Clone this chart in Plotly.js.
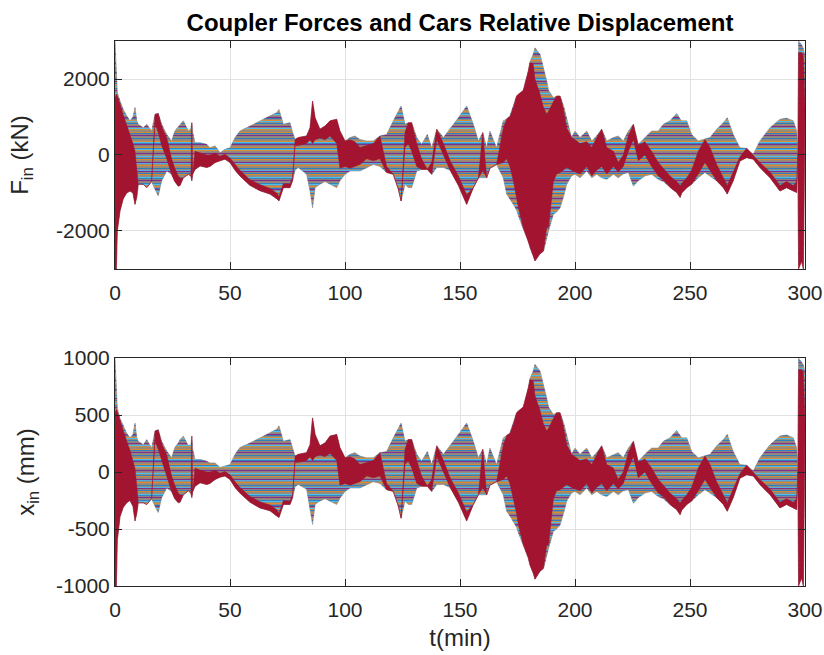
<!DOCTYPE html>
<html>
<head>
<meta charset="utf-8">
<script src="https://cdn.plot.ly/plotly-3.0.1.min.js"></script>
<style>html,body{margin:0;padding:0;background:#fff;}#chart{width:824px;height:655px;}</style>
</head>
<body>
<div id="chart"></div>
<script>
// time axis (min)
var t = [0,0.6,1.0,2.2,3.6,5.1,6.5,7.8,8.7,9.5,10.1,12.3,13.8,15.9,17.4,18.8,20.3,22.5,24.6,26.0,27.5,28.3,29.7,31.9,33.0,33.4,33.8,34.8,37.0,39.9,41.3,43.5,45.7,47.8,50.0,52.2,54.3,58.7,63.0,67.4,70.3,71.3,73.2,76.1,77.2,78.3,79.7,83.3,84.8,85.9,87.0,89.1,91.3,93.5,96.4,97.8,100.0,102.2,104.3,106.5,109.4,112.3,115.2,118.1,121.0,123.2,124.4,126.1,127.5,129.0,131.2,133.3,135.8,137.7,139.9,142.8,145.7,149.3,152.9,155.8,158.0,159.9,161.6,163.0,165.9,168.8,170.3,171.7,173.2,174.6,175.4,177.5,179.7,180.4,181.8,182.6,184.8,186.3,187.7,188.5,190.6,192.0,193.5,195.0,196.4,198.5,200.0,202.2,205.1,207.3,209.4,211.6,213.8,216.7,218.8,221.0,223.2,225.4,227.5,230.4,233.3,236.2,238.4,241.3,244.2,245.7,246.4,248.6,250.7,253.6,256.5,258.7,261.6,264.5,266.2,268.8,271.7,274.6,277.5,280.4,284.8,289.1,292.0,294.9,296.4,296.9,297.2,298.5,299.3,300.0];

// Coupler forces (kN): envelope of all cars
var F_upper = [3000,2000,1650,1420,1200,1030,900,1000,1250,900,810,720,810,630,1070,1090,810,540,370,630,750,810,900,630,700,850,600,320,320,280,190,240,60,150,190,460,630,760,900,1030,1110,1200,810,850,600,410,460,500,720,1420,980,680,760,900,940,630,370,460,500,410,370,370,500,540,900,1160,1290,810,850,850,460,280,540,190,680,460,680,980,1290,810,370,590,190,630,190,900,950,1030,1300,1550,1600,1700,2210,2450,2650,2820,2650,2300,1950,1700,1510,1550,1550,1300,980,460,630,460,630,370,500,680,370,460,500,370,630,810,280,460,630,630,810,900,1090,950,900,900,540,370,410,460,680,850,980,540,190,175,20,370,720,940,970,900,630,0,3000,2900,2800,2600];
var F_lower = [-3000,-3000,-2000,-1470,-1150,-1000,-950,-1000,-1300,-1100,-770,-770,-860,-700,-900,-1080,-680,-420,-510,-700,-820,-800,-600,-510,-550,-680,-500,-380,-290,-330,-300,-200,-150,-110,-200,-400,-550,-800,-940,-1030,-1150,-1210,-860,-860,-680,-400,-330,-510,-950,-1390,-860,-770,-700,-770,-860,-680,-510,-420,-420,-420,-330,-250,-300,-460,-510,-900,-1210,-770,-860,-860,-420,-380,-380,-510,-330,-330,-400,-800,-1300,-860,-600,-600,-600,-350,-250,-600,-1030,-1150,-1300,-1450,-1600,-1950,-2260,-2440,-2650,-2790,-2600,-2530,-2200,-2000,-1560,-1500,-1390,-1100,-770,-550,-510,-600,-420,-600,-510,-600,-640,-510,-600,-500,-460,-820,-680,-550,-510,-640,-700,-850,-990,-1120,-1000,-860,-770,-600,-460,-560,-680,-860,-1030,-680,-160,-70,-110,-330,-600,-950,-860,-950,-990,0,-3000,-2800,-3000,1200];
// Coupler forces (kN): last car (drawn on top)
var F_last_upper = [1500,1600,1550,1350,1050,800,550,300,100,-400,-770,-770,-860,-700,1070,1090,750,450,-100,-350,-550,-600,-600,-510,-550,850,-500,100,50,0,0,50,-30,20,-80,-250,-400,-650,-780,-880,-1000,-1100,-750,-760,-600,410,460,500,720,1420,980,680,760,900,940,630,370,400,350,200,250,300,500,-300,-510,-900,-1210,600,850,850,300,-100,-380,-200,680,300,-150,-550,-1050,-860,-600,590,-600,-350,-250,700,950,1000,1250,1550,1600,1700,2210,2430,2400,2000,1600,1250,1070,1150,1400,1550,1550,1200,720,460,400,300,350,200,450,680,200,100,-200,0,500,810,250,350,100,-200,-350,-550,-700,-800,-750,-600,-400,100,410,200,-250,-600,-800,-450,-50,175,-20,-200,-450,-800,-700,-800,-700,0,2700,2700,2600,1200];
var F_last_lower = [-3000,-3000,-2000,-1470,-1150,-1000,-950,-1000,-1300,-1100,-770,-770,-860,-700,800,600,250,-100,-510,-700,-820,-800,-600,-510,-550,-680,-500,-380,-290,-330,-300,-200,-150,-110,-200,-400,-550,-800,-940,-1030,-1150,-1210,-860,-860,-680,250,250,300,400,300,400,450,400,500,300,-350,-300,-350,-300,-250,-100,-150,-100,-460,-510,-900,-1210,200,300,100,-300,-380,-380,-510,400,0,-400,-800,-1300,-860,-600,-400,-600,-350,-250,-200,-100,-300,-680,-1100,-1390,-1910,-2260,-2440,-2650,-2790,-2600,-2530,-1910,-1910,-700,-500,-460,-400,-330,-400,-450,-500,-300,-550,-400,-300,-500,-300,-450,-300,100,400,-150,0,-300,-550,-650,-850,-990,-1120,-1000,-860,-770,-500,-200,-400,-680,-860,-1030,-680,-160,-70,-110,-330,-600,-950,-860,-950,-990,0,-3000,-2800,-3000,1200];

// Cars relative displacement (mm): envelope of all cars
var X_upper = [1000,700,560,470,400,340,300,330,430,300,270,240,285,210,360,370,270,185,125,215,255,285,315,230,240,315,200,110,110,95,80,80,40,50,65,155,215,255,300,345,375,405,270,285,200,140,155,170,240,475,330,230,255,315,330,215,125,155,170,140,125,125,170,180,300,390,430,270,285,285,155,95,180,65,230,155,230,330,430,270,125,200,65,210,65,300,320,345,435,520,535,570,740,820,885,945,885,770,650,570,505,520,520,435,330,155,210,155,210,125,170,230,125,155,170,125,210,270,95,155,210,210,270,300,365,320,300,300,180,125,140,155,230,285,330,180,65,60,10,125,240,315,325,300,210,0,1000,960,940,870];
var X_lower = [-1000,-1000,-600,-390,-310,-270,-250,-300,-430,-360,-270,-270,-285,-235,-300,-355,-225,-140,-170,-235,-270,-265,-200,-165,-185,-225,-170,-125,-95,-110,-100,-65,-45,-35,-65,-135,-185,-265,-315,-340,-385,-400,-285,-285,-225,-130,-110,-150,-315,-460,-285,-255,-235,-260,-285,-230,-170,-140,-140,-140,-110,-85,-100,-155,-170,-300,-405,-255,-285,-285,-140,-125,-125,-170,-110,-110,-135,-265,-430,-285,-200,-200,-200,-115,-85,-200,-345,-385,-435,-485,-535,-650,-755,-815,-885,-940,-870,-845,-735,-670,-520,-500,-465,-365,-255,-185,-170,-200,-140,-200,-170,-200,-215,-170,-200,-165,-155,-275,-225,-185,-170,-215,-235,-285,-330,-375,-335,-285,-255,-200,-155,-185,-225,-285,-345,-225,-55,-25,-35,-110,-200,-315,-285,-315,-330,0,-1000,-930,-1000,420];
// Cars relative displacement (mm): last car (drawn on top)
var X_last_upper = [520,550,530,450,350,270,190,100,30,-130,-270,-270,-285,-235,360,370,250,150,-35,-115,-185,-200,-200,-165,-185,315,-170,35,15,0,0,15,-10,5,-25,-85,-135,-215,-260,-290,-330,-365,-250,-255,-200,140,155,170,240,475,330,230,255,315,330,215,125,135,115,65,85,100,170,-100,-170,-300,-405,200,285,285,100,-35,-125,-65,230,100,-50,-185,-350,-285,-200,200,-200,-115,-85,235,320,335,420,520,535,570,740,810,800,670,540,420,360,385,470,520,520,400,240,155,135,100,115,65,150,230,65,35,-65,0,170,270,85,115,35,-65,-115,-185,-235,-270,-250,-200,-135,35,140,65,-85,-200,-270,-150,-15,60,-5,-65,-150,-265,-235,-265,-235,0,900,900,870,420];
var X_last_lower = [-1000,-1000,-600,-390,-310,-270,-250,-300,-430,-360,-270,-270,-285,-235,270,200,85,-35,-170,-235,-270,-265,-200,-165,-185,-225,-170,-125,-95,-110,-100,-65,-45,-35,-65,-135,-185,-265,-315,-340,-385,-400,-285,-285,-225,85,85,100,135,100,135,150,135,165,100,-115,-100,-115,-100,-85,-35,-50,-35,-155,-170,-300,-405,65,100,35,-100,-125,-125,-170,135,0,-135,-265,-430,-285,-200,-135,-200,-115,-85,-65,-35,-100,-230,-365,-465,-635,-755,-815,-885,-940,-870,-845,-640,-640,-235,-165,-155,-135,-110,-135,-150,-165,-100,-185,-135,-100,-165,-100,-150,-100,35,135,-50,0,-100,-185,-215,-285,-330,-375,-335,-285,-255,-165,-65,-135,-225,-285,-345,-225,-55,-25,-35,-110,-200,-315,-285,-315,-330,0,-1000,-930,-1000,420];

// ticks
var t_ticks = [0,50,100,150,200,250,300];
var F_ticks = [-2000,0,2000];
var F_tick_labels = ['-2000','0','2000'];
var X_ticks = [-1000,-500,0,500,1000];
var X_tick_labels = ['-1000','-500','0','500','1000'];

function poly(xs, hi, lo) {
  var rx = xs.slice().reverse(), rl = lo.slice().reverse();
  return {x: xs.concat(rx), y: hi.concat(rl)};
}

var RED = '#A2142F';
var BG = '#978a78';
function bandTraces(hi, lo, lhi, llo, xa, ya) {
  var p = poly(t, hi, lo), q = poly(t, lhi, llo);
  function over(col, size, sol) {
    return {type:'scatter', mode:'lines', x:p.x, y:p.y, xaxis:xa, yaxis:ya, fill:'toself',
      fillcolor:'rgba(0,0,0,0)', line:{width:0}, hoverinfo:'skip',
      fillpattern:{shape:'-', fgcolor:col, bgcolor:'rgba(0,0,0,0)', size:size, solidity:sol, fillmode:'replace'}};
  }
  var base = {type:'scatter', mode:'lines', x:p.x, y:p.y, xaxis:xa, yaxis:ya, fill:'toself',
    fillcolor:BG, line:{color:'#8f8c88', width:0.6}, hoverinfo:'skip',
    fillpattern:{shape:'-', fgcolor:'#E08A2A', bgcolor:BG, size:3, solidity:0.34}};
  var red = {type:'scatter', mode:'lines', x:q.x, y:q.y, xaxis:xa, yaxis:ya, fill:'toself',
    fillcolor:RED, line:{color:RED, width:0.5}, hoverinfo:'skip'};
  return [base, over('#2F7FBF', 5, 0.22), over('#4DBEEE', 7, 0.16), over('#7E2F8E', 9, 0.14), red];
}

var data = bandTraces(F_upper, F_lower, F_last_upper, F_last_lower, 'x', 'y')
  .concat(bandTraces(X_upper, X_lower, X_last_upper, X_last_lower, 'x2', 'y2'));

var FONT = 'Liberation Sans, Arial, Helvetica, sans-serif';
var axisCommon = {
  ticks:'inside', ticklen:7, tickwidth:1, tickcolor:'#262626',
  showline:true, mirror:'ticks', linecolor:'#262626', linewidth:1,
  showgrid:true, gridcolor:'#e2e2e2', gridwidth:1, zeroline:false,
  tickfont:{family:FONT, size:21, color:'#262626'}
};
function ax(extra) { var o = {}; for (var k in axisCommon) o[k] = axisCommon[k]; for (var k2 in extra) o[k2] = extra[k2]; return o; }

var layout = {
  width:824, height:655,
  margin:{l:115, r:19, t:41, b:69, pad:0},
  paper_bgcolor:'#ffffff', plot_bgcolor:'#ffffff',
  showlegend:false, hovermode:false,
  font:{family:FONT, size:21, color:'#262626'},
  title:{text:'<b>Coupler Forces and Cars Relative Displacement</b>', font:{family:FONT, size:24, color:'#000000'},
    x:0.5, xref:'paper', xanchor:'center', y:0.965, yref:'container', yanchor:'middle'},
  xaxis: ax({domain:[0,1], anchor:'y', range:[0,300], tickmode:'array', tickvals:t_ticks, ticklabelstandoff:5}),
  yaxis: ax({domain:[0.5817,1], anchor:'x', range:[-3000,3000], tickmode:'array', tickvals:F_ticks, ticktext:F_tick_labels,
    title:{text:'F<sub>in</sub> (kN)', font:{family:FONT, size:24, color:'#262626'}, standoff:20}}),
  xaxis2: ax({domain:[0,1], anchor:'y2', range:[0,300], tickmode:'array', tickvals:t_ticks, ticklabelstandoff:5,
    title:{text:'t(min)', font:{family:FONT, size:24, color:'#262626'}, standoff:8}}),
  yaxis2: ax({domain:[0,0.4183], anchor:'x2', range:[-1000,1000], tickmode:'array', tickvals:X_ticks, ticktext:X_tick_labels,
    title:{text:'x<sub>in</sub> (mm)', font:{family:FONT, size:24, color:'#262626'}, standoff:14}})
};

Plotly.newPlot('chart', data, layout, {staticPlot:true, displayModeBar:false});
</script>
</body>
</html>
